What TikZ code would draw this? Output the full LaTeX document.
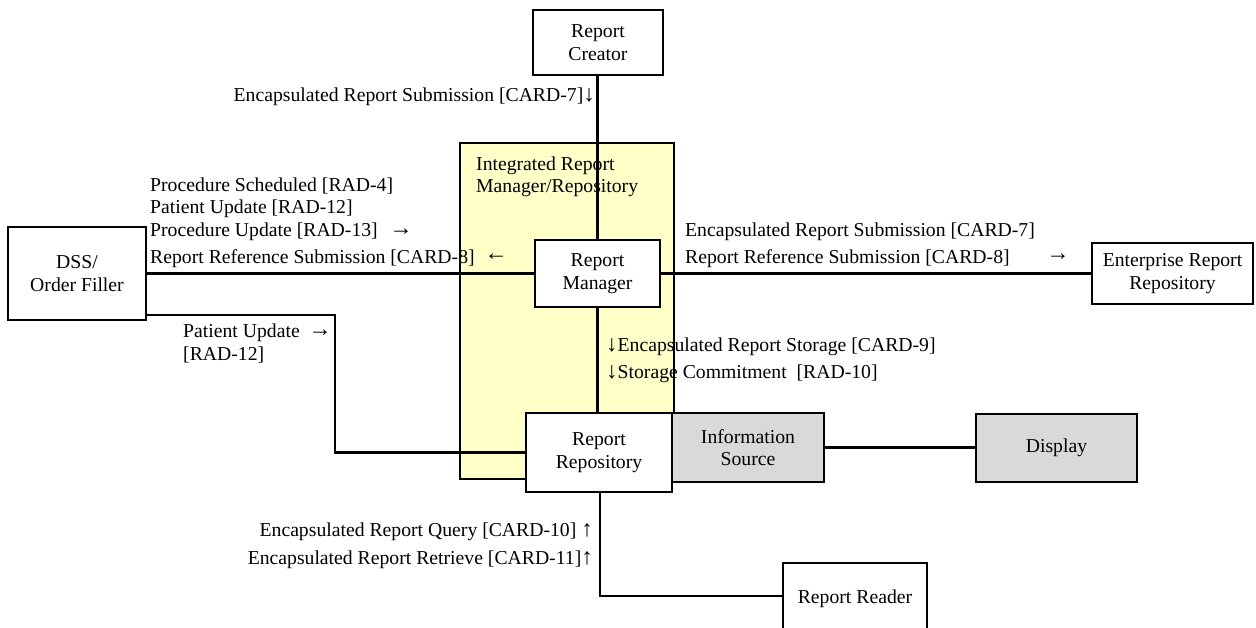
\documentclass[tikz,border=0pt]{standalone}
\usepackage{fontspec}
\setmainfont{Liberation Serif}
\definecolor{yel}{RGB}{255,255,200}
\definecolor{gry}{RGB}{217,217,217}
\newcommand{\arr}[1]{{\fontsize{23}{22}\selectfont #1}}
\begin{document}
\begin{tikzpicture}[x=1pt,y=-1pt,
  font=\fontsize{19.7}{22.5}\selectfont,
  box/.style={draw,line width=2.7pt,fill=white,align=center,inner sep=0pt},
  conn/.style={line width=2.7pt},
  lbl/.style={inner sep=0pt,align=left}]
\useasboundingbox (0,0) rectangle (1256,627);
% group background
\fill[yel] (460,143) rectangle (674,479);
% labels
\node[lbl,anchor=west] (grp1) at (476,166) {Integrated Report};
\node[lbl,anchor=west] (grp2) at (476,188) {Manager/Repository};
\node[lbl,anchor=east] (l1) at (595,97) {Encapsulated Report Submission [CARD-7]\arr{↓}};
\node[lbl,anchor=west] (l2) at (150,186) {Procedure Scheduled [RAD-4]};
\node[lbl,anchor=west] (l3) at (150,209) {Patient Update [RAD-12]};
\node[lbl,anchor=west] (l4) at (150,232) {Procedure Update [RAD-13]};
\node[lbl] (a4) at (401,232) {\arr{→}};
\node[lbl,anchor=west] (l5) at (150,259) {Report Reference Submission [CARD-8]};
\node[lbl] (a5) at (496,257) {\arr{←}};
\node[lbl,anchor=west] (l6) at (685,232) {Encapsulated Report Submission [CARD-7]};
\node[lbl,anchor=west] (l7) at (685,259) {Report Reference Submission [CARD-8]};
\node[lbl] (a7) at (1058,257) {\arr{→}};
\node[lbl,anchor=west] (l8) at (606,347) {\arr{↓}Encapsulated Report Storage [CARD-9]};
\node[lbl,anchor=west] (l9) at (606,374) {\arr{↓}Storage Commitment\ \ [RAD-10]};
\node[lbl,anchor=west] (l10) at (183,333) {Patient Update};
\node[lbl] (a10) at (320,333) {\arr{→}};
\node[lbl,anchor=west] (l11) at (183,355) {[RAD-12]};
\node[lbl,anchor=east] (l12) at (593,532) {Encapsulated Report Query [CARD-10] \arr{↑}};
\node[lbl,anchor=east] (l13) at (593,560) {Encapsulated Report Retrieve [CARD-11]\arr{↑}};
% group border
\draw[line width=2.7pt] (460,143) rectangle (674,479);
% coordinates for bends
\coordinate (p1) at (335,315);
\coordinate (p2) at (600,596);
% boxes
\node[box,minimum width=130pt,minimum height=65pt] (creator) at (598,42.5) {Report\\Creator};
\node[box,minimum width=138pt,minimum height=93pt] (dss) at (77,273.5) {DSS/\\Order Filler};
\node[box,minimum width=125pt,minimum height=67pt] (rm) at (597.5,273.5) {Report\\Manager};
\node[box,minimum width=161pt,minimum height=61pt] (err) at (1172.5,273.5) {Enterprise Report\\Repository};
\node[box,minimum width=146pt,minimum height=79pt] (rr) at (599,452.5) {Report\\Repository};
\node[box,fill=gry,minimum width=152pt,minimum height=69pt] (info) at (748,447.5) {Information\\Source};
\node[box,fill=gry,minimum width=161pt,minimum height=68pt] (disp) at (1056.5,448) {Display};
\node[box,minimum width=144pt,minimum height=72pt] (reader) at (855,599) {Report Reader};
% connectors
\draw[conn] (creator.south -| rm.north) -- (rm.north);
\draw[conn] (dss.east |- rm.west) -- (rm.west);
\draw[conn] (rm.east) -- (err.west);
\draw[conn] (rm.south) -- (rm.south |- rr.north);
\draw[conn] (dss.east |- p1) -- (p1) -- (p1 |- rr.west) -- (rr.west);
\draw[conn] (info.east) -- (info.east -| disp.west);
\draw[conn] (rr.south -| p2) -- (p2) -- (reader.west |- p2);
\end{tikzpicture}
\end{document}
